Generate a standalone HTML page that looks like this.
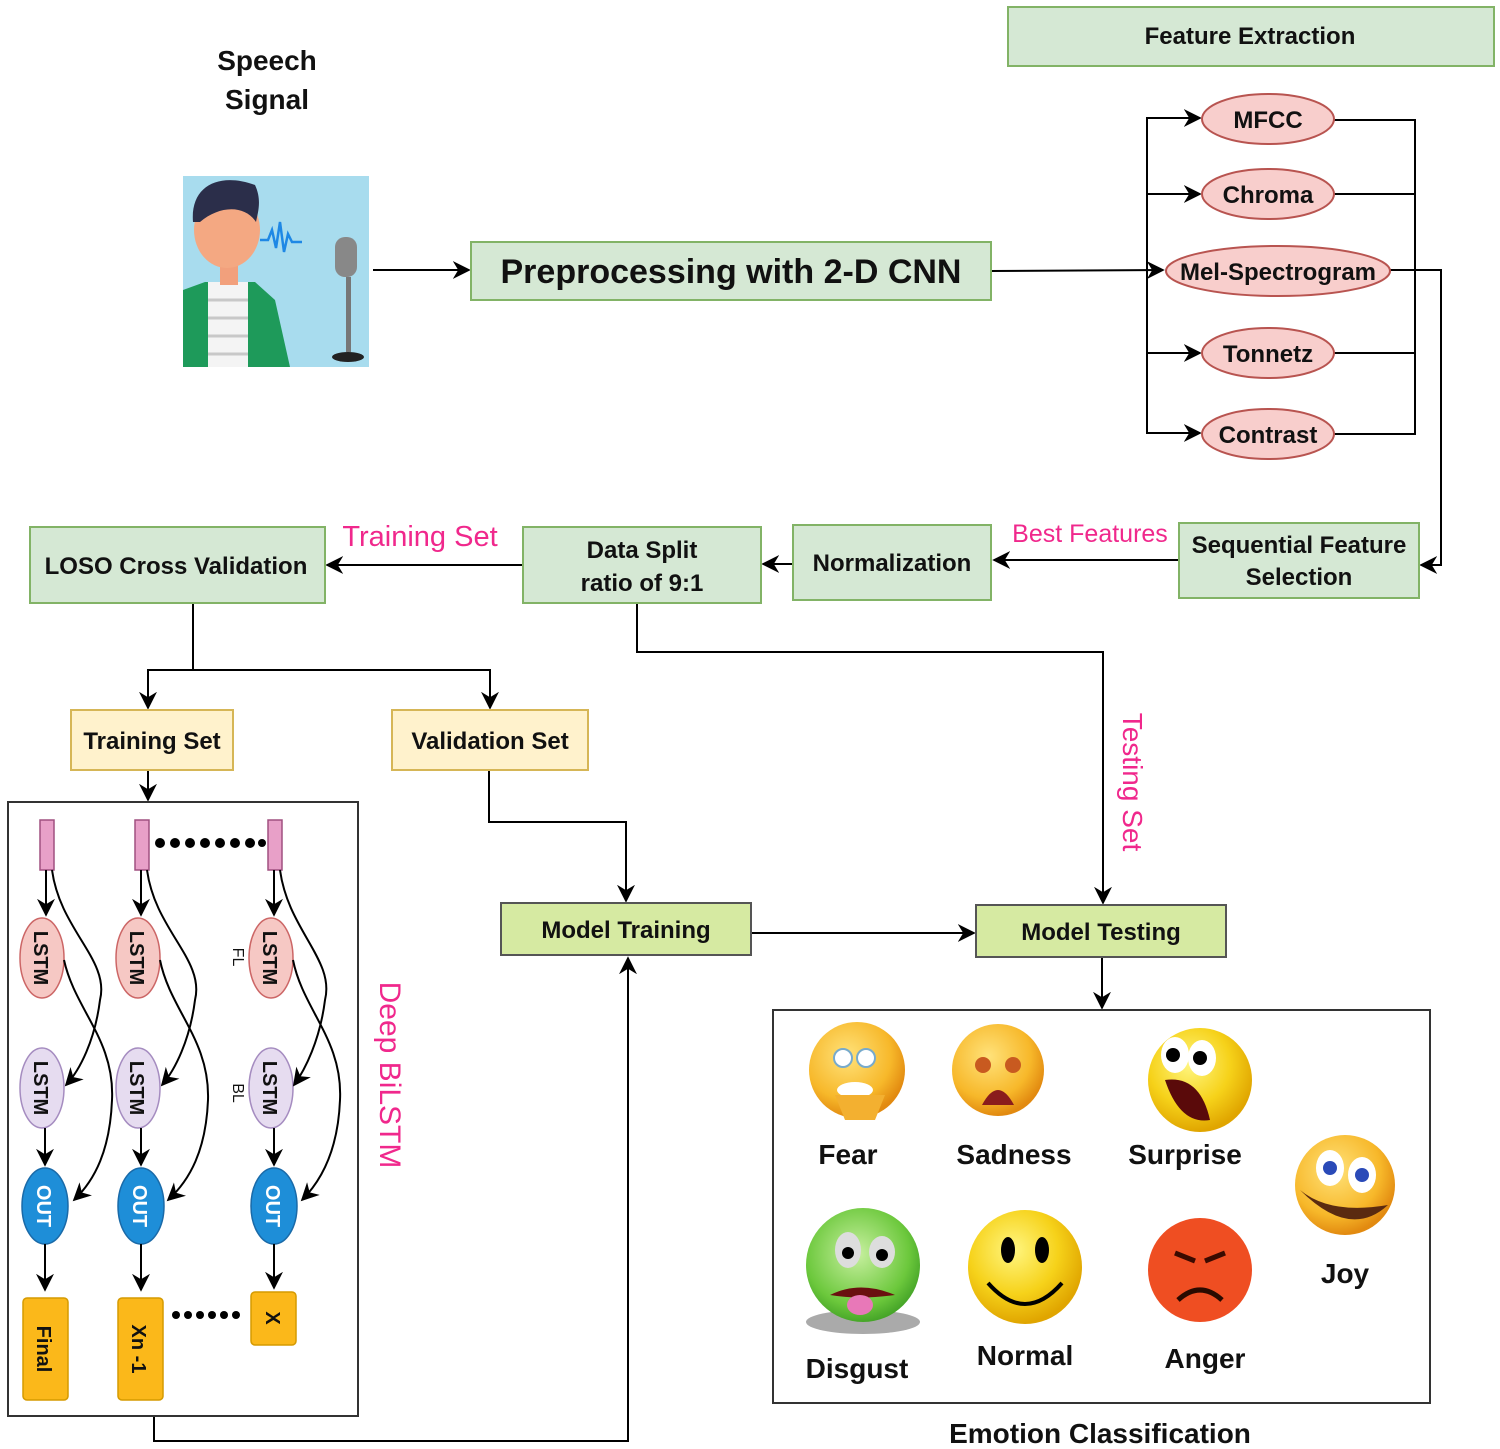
<!DOCTYPE html>
<html><head><meta charset="utf-8"><style>
html,body{margin:0;padding:0;background:#fff;}
svg{display:block;}
text{font-family:"Liberation Sans","DejaVu Sans",sans-serif;font-weight:bold;fill:#111;}
.p{fill:#f0288c;font-weight:normal;}
</style></head><body>
<svg width="1500" height="1449" viewBox="0 0 1500 1449" xmlns="http://www.w3.org/2000/svg">
<defs>
<marker id="a" viewBox="0 0 10 10" refX="9" refY="5" markerWidth="9" markerHeight="9" orient="auto"><path d="M0,0 L10,5 L0,10 L3,5z" fill="#000"/></marker>
<radialGradient id="yl" cx="40%" cy="35%" r="65%"><stop offset="0" stop-color="#fff680"/><stop offset="0.6" stop-color="#f6d21a"/><stop offset="1" stop-color="#e0a500"/></radialGradient>
<radialGradient id="og" cx="40%" cy="35%" r="65%"><stop offset="0" stop-color="#ffe27a"/><stop offset="0.7" stop-color="#f7b82a"/><stop offset="1" stop-color="#e28a10"/></radialGradient>
<radialGradient id="gr" cx="45%" cy="40%" r="65%"><stop offset="0" stop-color="#c8f0a0"/><stop offset="0.7" stop-color="#6cc83c"/><stop offset="1" stop-color="#3a9a22"/></radialGradient>
</defs>
<g stroke="#000" stroke-width="2" fill="none">
<!-- top -->
<line x1="373" y1="270" x2="469" y2="270" marker-end="url(#a)"/>
<line x1="991" y1="271" x2="1163" y2="270" marker-end="url(#a)"/>
<polyline points="1200,118 1147,118 1147,433 1200,433"/>
<line x1="1147" y1="118" x2="1200" y2="118" marker-end="url(#a)"/>
<line x1="1147" y1="194" x2="1200" y2="194" marker-end="url(#a)"/>
<line x1="1147" y1="353" x2="1200" y2="353" marker-end="url(#a)"/>
<line x1="1147" y1="433" x2="1200" y2="433" marker-end="url(#a)"/>
<polyline points="1334,120 1415,120 1415,434 1334,434"/>
<line x1="1334" y1="194" x2="1415" y2="194"/>
<line x1="1334" y1="353" x2="1415" y2="353"/>
<polyline points="1390,270 1441,270 1441,565 1421,565" marker-end="url(#a)"/>
<line x1="1179" y1="560" x2="994" y2="560" marker-end="url(#a)"/>
<line x1="793" y1="564" x2="763" y2="564" marker-end="url(#a)"/>
<line x1="523" y1="565" x2="327" y2="565" marker-end="url(#a)"/>
<line x1="193" y1="603" x2="193" y2="670"/>
<polyline points="148,708 148,670 490,670 490,708" marker-end="url(#a)"/>
<line x1="148" y1="690" x2="148" y2="708" marker-end="url(#a)"/>
<line x1="148" y1="770" x2="148" y2="800" marker-end="url(#a)"/>
<polyline points="489,770 489,822 626,822 626,901" marker-end="url(#a)"/>
<polyline points="637,603 637,652 1103,652 1103,903" marker-end="url(#a)"/>
<line x1="751" y1="933" x2="974" y2="933" marker-end="url(#a)"/>
<line x1="1102" y1="957" x2="1102" y2="1008" marker-end="url(#a)"/>
<polyline points="154,1416 154,1441 628,1441 628,958" marker-end="url(#a)"/>
</g>
<!-- boxes -->
<g stroke="#82b366" stroke-width="2" fill="#d5e8d4">
<rect x="1008" y="7" width="486" height="59"/>
<rect x="471" y="242" width="520" height="58"/>
<rect x="1179" y="523" width="240" height="75"/>
<rect x="793" y="525" width="198" height="75"/>
<rect x="523" y="527" width="238" height="76"/>
<rect x="30" y="527" width="295" height="76"/>
</g>
<g stroke="#d6b656" stroke-width="2" fill="#fff2cc">
<rect x="71" y="710" width="162" height="60"/>
<rect x="392" y="710" width="196" height="60"/>
</g>
<g stroke="#555" stroke-width="2" fill="#d6eaa2">
<rect x="501" y="903" width="250" height="52"/>
<rect x="976" y="905" width="250" height="52"/>
</g>
<g stroke="#333" stroke-width="2" fill="none">
<rect x="8" y="802" width="350" height="614"/>
<rect x="773" y="1010" width="657" height="393"/>
</g>
<g stroke="#b85450" stroke-width="2" fill="#f8cecc">
<ellipse cx="1268" cy="119" rx="66" ry="25"/>
<ellipse cx="1268" cy="194" rx="66" ry="25"/>
<ellipse cx="1278" cy="271" rx="112" ry="25"/>
<ellipse cx="1268" cy="353" rx="66" ry="25"/>
<ellipse cx="1268" cy="434" rx="66" ry="25"/>
</g>
<!-- texts -->
<text x="267" y="70" font-size="28" text-anchor="middle">Speech</text>
<text x="267" y="109" font-size="28" text-anchor="middle">Signal</text>
<text x="1250" y="44" font-size="24" text-anchor="middle">Feature Extraction</text>
<text x="731" y="283" font-size="34" text-anchor="middle">Preprocessing with 2-D CNN</text>
<text x="1268" y="128" font-size="24" text-anchor="middle">MFCC</text>
<text x="1268" y="203" font-size="24" text-anchor="middle">Chroma</text>
<text x="1278" y="280" font-size="24" text-anchor="middle">Mel-Spectrogram</text>
<text x="1268" y="362" font-size="24" text-anchor="middle">Tonnetz</text>
<text x="1268" y="443" font-size="24" text-anchor="middle">Contrast</text>
<text x="1299" y="553" font-size="24" text-anchor="middle">Sequential Feature</text>
<text x="1299" y="585" font-size="24" text-anchor="middle">Selection</text>
<text class="p" x="1090" y="542" font-size="25" text-anchor="middle">Best Features</text>
<text x="892" y="571" font-size="24" text-anchor="middle">Normalization</text>
<text x="642" y="558" font-size="24" text-anchor="middle">Data Split</text>
<text x="642" y="591" font-size="24" text-anchor="middle">ratio of 9:1</text>
<text class="p" x="420" y="546" font-size="29" text-anchor="middle">Training Set</text>
<text x="176" y="574" font-size="24" text-anchor="middle">LOSO Cross Validation</text>
<text x="152" y="749" font-size="24" text-anchor="middle">Training Set</text>
<text x="490" y="749" font-size="24" text-anchor="middle">Validation Set</text>
<text x="626" y="938" font-size="24" text-anchor="middle">Model Training</text>
<text x="1101" y="940" font-size="24" text-anchor="middle">Model Testing</text>
<text class="p" font-size="28" transform="translate(1123,782) rotate(90)" text-anchor="middle">Testing Set</text>
<text class="p" font-size="30" transform="translate(380,1075) rotate(90)" text-anchor="middle">Deep BiLSTM</text>
<text x="1100" y="1443" font-size="28" text-anchor="middle">Emotion Classification</text>
<!-- speaker image -->
<rect x="183" y="176" width="186" height="191" fill="#a8dcee"/>
<path d="M183,290 L205,282 L255,282 L275,300 L290,367 L183,367z" fill="#1e9a5a"/>
<rect x="208" y="282" width="40" height="85" fill="#f4f4f4"/>
<g stroke="#c8c8c8" stroke-width="3"><line x1="208" y1="300" x2="248" y2="300"/><line x1="208" y1="318" x2="248" y2="318"/><line x1="208" y1="336" x2="248" y2="336"/><line x1="208" y1="354" x2="248" y2="354"/></g>
<rect x="220" y="255" width="18" height="30" fill="#f2a07c"/>
<ellipse cx="227" cy="230" rx="33" ry="38" fill="#f4a882"/>
<path d="M193,222 C190,185 220,172 255,185 C262,200 258,212 256,222 C245,205 220,205 200,222z" fill="#2b2e4a"/>
<path d="M260,240 l8,0 l4,-10 l4,18 l4,-26 l4,30 l4,-18 l4,8 l10,0" stroke="#1e88e5" stroke-width="2.5" fill="none"/>
<rect x="335" y="237" width="22" height="40" rx="10" fill="#888"/>
<rect x="346" y="277" width="5" height="75" fill="#777"/>
<ellipse cx="348" cy="357" rx="16" ry="5" fill="#222"/>
<!-- BiLSTM -->
<g fill="#e8a0c8" stroke="#a05080" stroke-width="1.5">
<rect x="40" y="820" width="14" height="50"/>
<rect x="135" y="820" width="14" height="50"/>
<rect x="268" y="820" width="14" height="50"/>
</g>
<g fill="#000">
<circle cx="160" cy="843" r="5"/><circle cx="175" cy="843" r="5"/><circle cx="190" cy="843" r="5"/><circle cx="205" cy="843" r="5"/><circle cx="220" cy="843" r="5"/><circle cx="235" cy="843" r="5"/><circle cx="250" cy="843" r="5"/><circle cx="262" cy="843" r="4"/>
<circle cx="176" cy="1315" r="4"/><circle cx="188" cy="1315" r="4"/><circle cx="200" cy="1315" r="4"/><circle cx="212" cy="1315" r="4"/><circle cx="224" cy="1315" r="4"/><circle cx="236" cy="1315" r="4"/>
</g>
<g stroke="#cc6666" stroke-width="1.5" fill="#f6c8c4">
<ellipse cx="42" cy="958" rx="22" ry="40"/><ellipse cx="138" cy="958" rx="22" ry="40"/><ellipse cx="271" cy="958" rx="22" ry="40"/>
</g>
<g stroke="#a58cc0" stroke-width="1.5" fill="#e6dcf0">
<ellipse cx="42" cy="1088" rx="22" ry="40"/><ellipse cx="138" cy="1088" rx="22" ry="40"/><ellipse cx="271" cy="1088" rx="22" ry="40"/>
</g>
<g stroke="#1a6aa8" stroke-width="1.5" fill="#1e8ed8">
<ellipse cx="45" cy="1206" rx="23" ry="38"/><ellipse cx="141" cy="1206" rx="23" ry="38"/><ellipse cx="274" cy="1206" rx="23" ry="38"/>
</g>
<g stroke="#d59a00" stroke-width="1.5" fill="#fbb81a">
<rect x="23" y="1298" width="45" height="102" rx="4"/><rect x="118" y="1298" width="45" height="102" rx="4"/><rect x="251" y="1292" width="45" height="53" rx="4"/>
</g>
<g stroke="#000" stroke-width="2" fill="none">
<line x1="46" y1="870" x2="46" y2="915" marker-end="url(#a)"/><line x1="141" y1="870" x2="141" y2="915" marker-end="url(#a)"/><line x1="274" y1="870" x2="274" y2="915" marker-end="url(#a)"/>
<line x1="45" y1="1128" x2="45" y2="1165" marker-end="url(#a)"/><line x1="141" y1="1128" x2="141" y2="1165" marker-end="url(#a)"/><line x1="274" y1="1128" x2="274" y2="1165" marker-end="url(#a)"/>
<line x1="45" y1="1244" x2="45" y2="1290" marker-end="url(#a)"/><line x1="141" y1="1244" x2="141" y2="1290" marker-end="url(#a)"/><line x1="274" y1="1244" x2="274" y2="1288" marker-end="url(#a)"/>
<path d="M52,870 C60,930 110,960 100,1000 C95,1040 80,1070 66,1085" marker-end="url(#a)"/>
<path d="M147,870 C155,930 205,960 195,1000 C190,1040 175,1070 162,1085" marker-end="url(#a)"/>
<path d="M280,870 C288,930 335,960 325,1000 C320,1040 305,1070 294,1085" marker-end="url(#a)"/>
<path d="M64,960 C75,1010 115,1040 112,1100 C110,1150 95,1180 74,1200" marker-end="url(#a)"/>
<path d="M160,960 C170,1010 210,1040 208,1100 C206,1150 190,1180 168,1200" marker-end="url(#a)"/>
<path d="M293,960 C303,1010 343,1040 340,1100 C338,1150 322,1180 302,1200" marker-end="url(#a)"/>
</g>
<g font-size="20">
<text transform="translate(34,958) rotate(90)" text-anchor="middle">LSTM</text>
<text transform="translate(130,958) rotate(90)" text-anchor="middle">LSTM</text>
<text transform="translate(263,958) rotate(90)" text-anchor="middle">LSTM</text>
<text transform="translate(34,1088) rotate(90)" text-anchor="middle">LSTM</text>
<text transform="translate(130,1088) rotate(90)" text-anchor="middle">LSTM</text>
<text transform="translate(263,1088) rotate(90)" text-anchor="middle">LSTM</text>
<text transform="translate(37,1206) rotate(90)" text-anchor="middle" style="fill:#fff">OUT</text>
<text transform="translate(133,1206) rotate(90)" text-anchor="middle" style="fill:#fff">OUT</text>
<text transform="translate(266,1206) rotate(90)" text-anchor="middle" style="fill:#fff">OUT</text>
<text transform="translate(37,1349) rotate(90)" text-anchor="middle">Final</text>
<text transform="translate(132,1349) rotate(90)" text-anchor="middle">Xn -1</text>
<text transform="translate(266,1318) rotate(90)" text-anchor="middle">X</text>
<text transform="translate(233,957) rotate(90)" text-anchor="middle" style="font-weight:normal;font-size:16px">FL</text>
<text transform="translate(233,1093) rotate(90)" text-anchor="middle" style="font-weight:normal;font-size:16px">BL</text>
</g>
<!-- emojis -->
<circle cx="857" cy="1070" r="48" fill="url(#og)"/>
<circle cx="843" cy="1058" r="9" fill="#fff" stroke="#7ac" stroke-width="2"/><circle cx="866" cy="1058" r="9" fill="#fff" stroke="#7ac" stroke-width="2"/>
<ellipse cx="855" cy="1090" rx="18" ry="8" fill="#fff"/>
<path d="M835,1095 l10,25 l30,0 l10,-25" fill="#f3b030"/>
<circle cx="998" cy="1070" r="46" fill="url(#og)"/>
<circle cx="983" cy="1065" r="8" fill="#c85a20"/><circle cx="1013" cy="1065" r="8" fill="#c85a20"/>
<path d="M982,1105 Q998,1075 1014,1105z" fill="#8a1c1c"/>
<circle cx="1200" cy="1080" r="52" fill="url(#yl)"/>
<ellipse cx="1175" cy="1055" rx="14" ry="18" fill="#fff"/><ellipse cx="1202" cy="1058" rx="14" ry="18" fill="#fff"/>
<circle cx="1173" cy="1055" r="7" fill="#000"/><circle cx="1200" cy="1058" r="7" fill="#000"/>
<path d="M1165,1080 Q1200,1075 1210,1120 Q1180,1125 1165,1080z" fill="#5a0a0a"/>
<circle cx="1345" cy="1185" r="50" fill="url(#og)"/>
<ellipse cx="1330" cy="1168" rx="14" ry="18" fill="#fff"/><ellipse cx="1362" cy="1175" rx="14" ry="18" fill="#fff"/>
<circle cx="1330" cy="1168" r="7" fill="#2a4ab8"/><circle cx="1362" cy="1175" r="7" fill="#2a4ab8"/>
<path d="M1300,1190 Q1330,1215 1388,1205 Q1350,1240 1300,1190z" fill="#5a2a10"/>
<ellipse cx="863" cy="1322" rx="57" ry="12" fill="#aaa"/>
<circle cx="863" cy="1265" r="57" fill="url(#gr)"/>
<ellipse cx="848" cy="1250" rx="13" ry="18" fill="#ddd"/><ellipse cx="882" cy="1252" rx="13" ry="16" fill="#ddd"/>
<circle cx="848" cy="1253" r="6" fill="#000"/><circle cx="882" cy="1255" r="6" fill="#000"/>
<path d="M830,1295 Q860,1280 895,1295 Q860,1300 830,1295z" fill="#6a1010"/>
<ellipse cx="860" cy="1305" rx="13" ry="10" fill="#e878b8"/>
<circle cx="1025" cy="1267" r="57" fill="url(#yl)"/>
<ellipse cx="1008" cy="1250" rx="7" ry="13" fill="#000"/><ellipse cx="1042" cy="1250" rx="7" ry="13" fill="#000"/>
<path d="M988,1283 Q1025,1325 1062,1283" stroke="#000" stroke-width="4" fill="none"/>
<circle cx="1200" cy="1270" r="52" fill="#ef4e22"/>
<path d="M1175,1253 l20,8 M1225,1253 l-20,8" stroke="#3a0a00" stroke-width="5"/>
<path d="M1178,1300 Q1200,1280 1222,1300" stroke="#2a0a00" stroke-width="5" fill="none"/>
<g font-size="28" text-anchor="middle" style="font-weight:bold">
<text x="848" y="1164">Fear</text>
<text x="1014" y="1164">Sadness</text>
<text x="1185" y="1164">Surprise</text>
<text x="1345" y="1283">Joy</text>
<text x="857" y="1378">Disgust</text>
<text x="1025" y="1365">Normal</text>
<text x="1205" y="1368">Anger</text>
</g>
</svg>
</body></html>
